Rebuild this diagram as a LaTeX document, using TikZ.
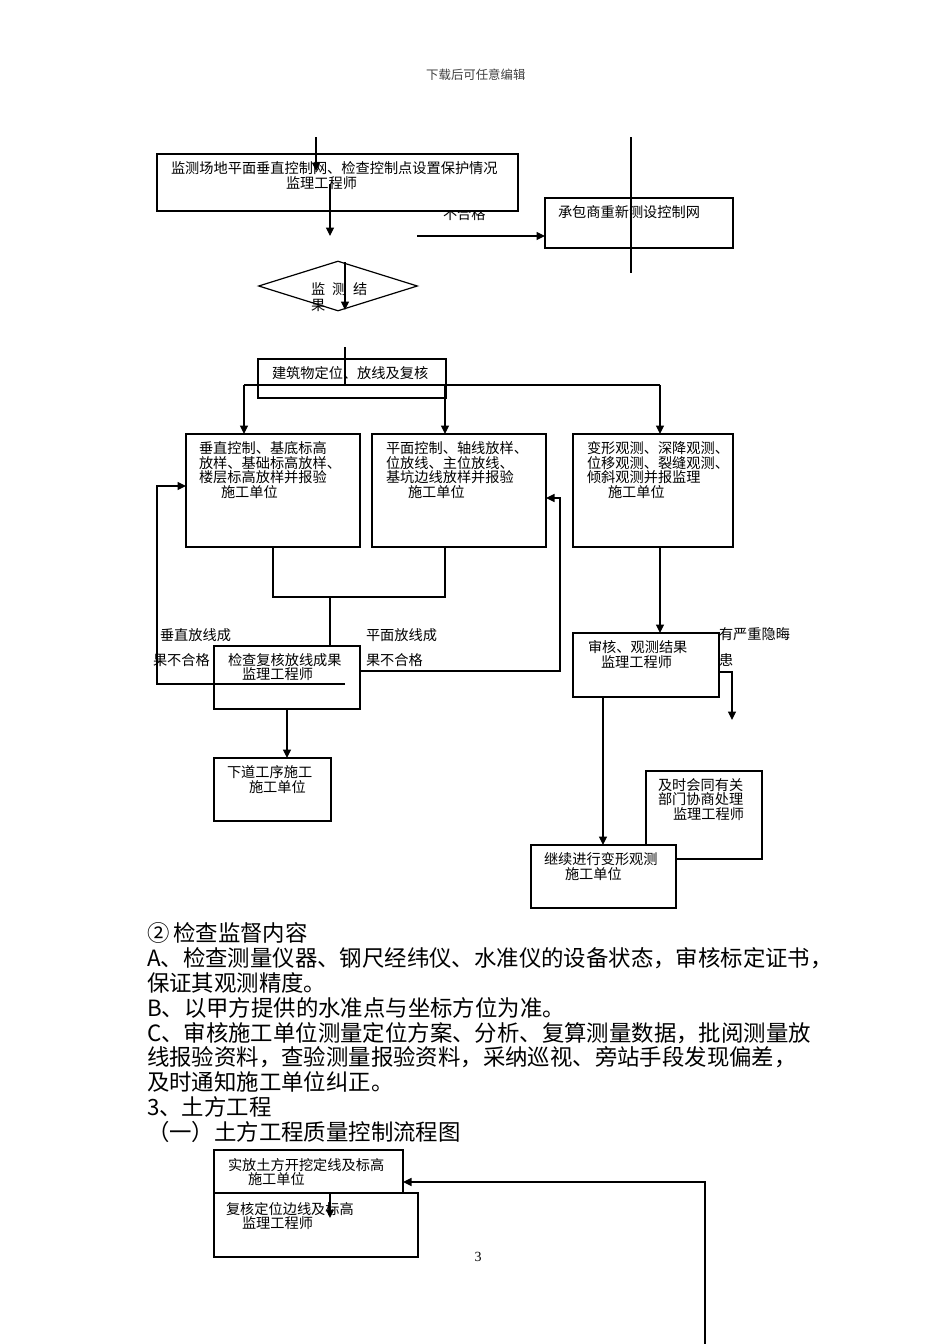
\documentclass[tikz,border=0pt]{standalone}
\usepackage{fontspec}
\setmainfont{Noto Sans CJK SC}
\newfontfamily\pgnum{Liberation Serif}
\usetikzlibrary{arrows.meta,shapes.geometric}
\begin{document}
\begin{tikzpicture}[x=1pt,y=-1pt,
  box/.style={draw, line width=1.2pt, fill=white, inner sep=0pt, outer sep=0pt, anchor=north west},
  ft/.style={font=\fontsize{14.2}{14.2}\selectfont, inner sep=0pt, outer sep=0pt, anchor=west},
  bt/.style={font=\fontsize{22.4}{22.4}\selectfont, inner sep=0pt, outer sep=0pt, anchor=west},
  ln/.style={line width=1.1pt},
  arr/.style={line width=1.1pt, -{Triangle[length=8.5pt,width=8pt]}},
]
\fill[white] (0,0) rectangle (950,1344);
\useasboundingbox (0,0) rectangle (950,1344);

% header
\node[font=\fontsize{12.4}{12.4}\selectfont, text=black!75, inner sep=0pt, anchor=west] (hdr) at (426,75) {下载后可任意编辑};

% label partly hidden by the first box
\node[ft] (bhg) at (443,214) {不合格};

% boxes
\node[box, minimum width=361pt, minimum height=57pt] (b1) at (157,154) {};
\node[box, minimum width=188pt, minimum height=50pt] (b2) at (545,198) {};
\node[draw, line width=1.2pt, fill=white, diamond, minimum width=159pt, minimum height=50pt, inner sep=0pt] (dia) at (338,286) {};
\node[box, minimum width=188pt, minimum height=39pt] (b3) at (258,359) {};
\node[box, minimum width=174pt, minimum height=113pt] (b4) at (186,434) {};
\node[box, minimum width=174pt, minimum height=113pt] (b5) at (372,434) {};
\node[box, minimum width=160pt, minimum height=113pt] (b6) at (573,434) {};
\node[box, minimum width=146pt, minimum height=63pt] (b7) at (214,646) {};
\node[box, minimum width=146pt, minimum height=64pt] (b8) at (573,633) {};
\node[box, minimum width=117pt, minimum height=63pt] (b9) at (214,758) {};
\node[box, minimum width=116pt, minimum height=88pt] (b10) at (646,771) {};
\node[box, minimum width=145pt, minimum height=63pt] (b11) at (531,845) {};
\node[box, minimum width=189pt, minimum height=43pt] (b12) at (214,1150) {};
\node[box, minimum width=204pt, minimum height=64pt] (b13) at (214,1193) {};

% box texts
\node[ft] (t1a) at (171,168) {监测场地平面垂直控制网、检查控制点设置保护情况};
\node[ft] (t1b) at (286,183) {监理工程师};
\node[ft] (t2) at (558,212) {承包商重新测设控制网};
\node[ft] (td1) at (311,289) {监};
\node[ft] (td2) at (332,289) {测};
\node[ft] (td3) at (353,289) {结};
\node[ft] (td4) at (311,305) {果};
\node[ft] (t3) at (272,373) {建筑物定位、放线及复核};
\node[ft] (t4a) at (199,448.5) {垂直控制、基底标高};
\node[ft] (t4b) at (199,463) {放样、基础标高放样、};
\node[ft] (t4c) at (199,477.5) {楼层标高放样并报验};
\node[ft] (t4d) at (221,492) {施工单位};
\node[ft] (t5a) at (386,448.5) {平面控制、轴线放样、};
\node[ft] (t5b) at (386,463) {位放线、主位放线、};
\node[ft] (t5c) at (386,477.5) {基坑边线放样并报验};
\node[ft] (t5d) at (408,492) {施工单位};
\node[ft] (t6a) at (587,448.5) {变形观测、深降观测、};
\node[ft] (t6b) at (587,463) {位移观测、裂缝观测、};
\node[ft] (t6c) at (587,477.5) {倾斜观测并报监理};
\node[ft] (t6d) at (608,492) {施工单位};
\node[ft] (lv1) at (160,635) {垂直放线成};
\node[ft] (lv2) at (153,660) {果不合格};
\node[ft] (lp1) at (366,635) {平面放线成};
\node[ft] (lp2) at (366,660) {果不合格};
\node[ft] (t7a) at (228,660) {检查复核放线成果};
\node[ft] (t7b) at (242,674.5) {监理工程师};
\node[ft] (t8a) at (588,647.5) {审核、观测结果};
\node[ft] (t8b) at (601,662) {监理工程师};
\node[ft] (ly1) at (719,634) {有严重隐晦};
\node[ft] (ly2) at (719,660) {患};
\node[ft] (t9a) at (227,772.5) {下道工序施工};
\node[ft] (t9b) at (249,787) {施工单位};
\node[ft] (t10a) at (658,785) {及时会同有关};
\node[ft] (t10b) at (658,799.5) {部门协商处理};
\node[ft] (t10c) at (673,814) {监理工程师};
\node[ft] (t11a) at (544,859.5) {继续进行变形观测};
\node[ft] (t11b) at (565,874) {施工单位};
\node[ft] (t12a) at (228,1165) {实放土方开挖定线及标高};
\node[ft] (t12b) at (248,1179.5) {施工单位};
\node[ft] (t13a) at (226,1209) {复核定位边线及标高};
\node[ft] (t13b) at (242,1223) {监理工程师};

% body text
\node[bt] (p1) at (147,933) {②\hspace{4pt}检查监督内容};
\node[bt] (p2) at (147,958) {A、检查测量仪器、钢尺经纬仪、水准仪的设备状态，审核标定证书，};
\node[bt] (p3) at (147,983) {保证其观测精度。};
\node[bt] (p4) at (147,1008) {B、以甲方提供的水准点与坐标方位为准。};
\node[bt] (p5) at (147,1033) {C、审核施工单位测量定位方案、分析、复算测量数据，批阅测量放};
\node[bt] (p6) at (147,1057.5) {线报验资料，查验测量报验资料，采纳巡视、旁站手段发现偏差，};
\node[bt] (p7) at (147,1082) {及时通知施工单位纠正。};
\node[bt] (p8) at (147,1107) {3、土方工程};
\node[bt] (p9) at (147,1132) {（一）土方工程质量控制流程图};

% page number
\node[font=\pgnum\fontsize{14}{14}\selectfont, inner sep=0pt] (pg) at (478,1257) {3};

% connectors
\coordinate (a0) at (316,137);
\coordinate (a1) at (316,171);
\draw[arr] (a0) -- (a1);
\coordinate (bs) at (330,184);
\coordinate (be) at (330,236);
\draw[arr] (bs) -- (be);
\coordinate (cs) at (417,236);
\draw[arr] (cs) -- (cs -| b2.west);
\coordinate (v1) at (631,137);
\coordinate (v2) at (631,273);
\draw[ln] (v1) -- (v2);
\coordinate (d0) at (345,262);
\coordinate (d1) at (345,310);
\draw[arr] (d0) -- (d1);
\coordinate (e0) at (345,347);
\coordinate (e1) at (345,385);
\draw[ln] (e0) -- (e1);
\coordinate (f0) at (244,385);
\coordinate (f1) at (445,385);
\coordinate (f2) at (660,385);
\draw[ln] (f0) -- (f2);
\draw[arr] (f0) -- (f0 |- b4.north);
\draw[arr] (f1) -- (f1 |- b5.north);
\draw[arr] (f2) -- (f2 |- b6.north);
\coordinate (gm) at (330,597);
\coordinate (g2) at (445,547);
\draw[ln] (b4.south) |- (gm) -| (g2);
\draw[ln] (gm) -- (gm |- b7.north);
\coordinate (h0) at (345,684);
\coordinate (h1) at (157,684);
\coordinate (h2) at (186,486);
\draw[arr] (h0) -- (h1) |- (h2);
\coordinate (i1) at (560,671);
\coordinate (i2) at (546,498);
\draw[arr] (b7.east |- i1) -- (i1) |- (i2);
\coordinate (j0) at (660,547);
\draw[arr] (j0) -- (j0 |- b8.north);
\coordinate (k1) at (732,672);
\coordinate (k2) at (732,720);
\draw[arr] (b8.east |- k1) -- (k1) -- (k2);
\coordinate (l0) at (287,709);
\draw[arr] (l0) -- (l0 |- b9.north);
\coordinate (m0) at (603,697);
\draw[arr] (m0) -- (m0 |- b11.north);
\coordinate (n0) at (330,1193);
\coordinate (n1) at (330,1218);
\draw[arr] (n0) -- (n1);
\coordinate (o0) at (705,1344);
\coordinate (o1) at (705,1182);
\draw[arr] (o0) -- (o1) -- (o1 -| b12.east);
\end{tikzpicture}
\end{document}
